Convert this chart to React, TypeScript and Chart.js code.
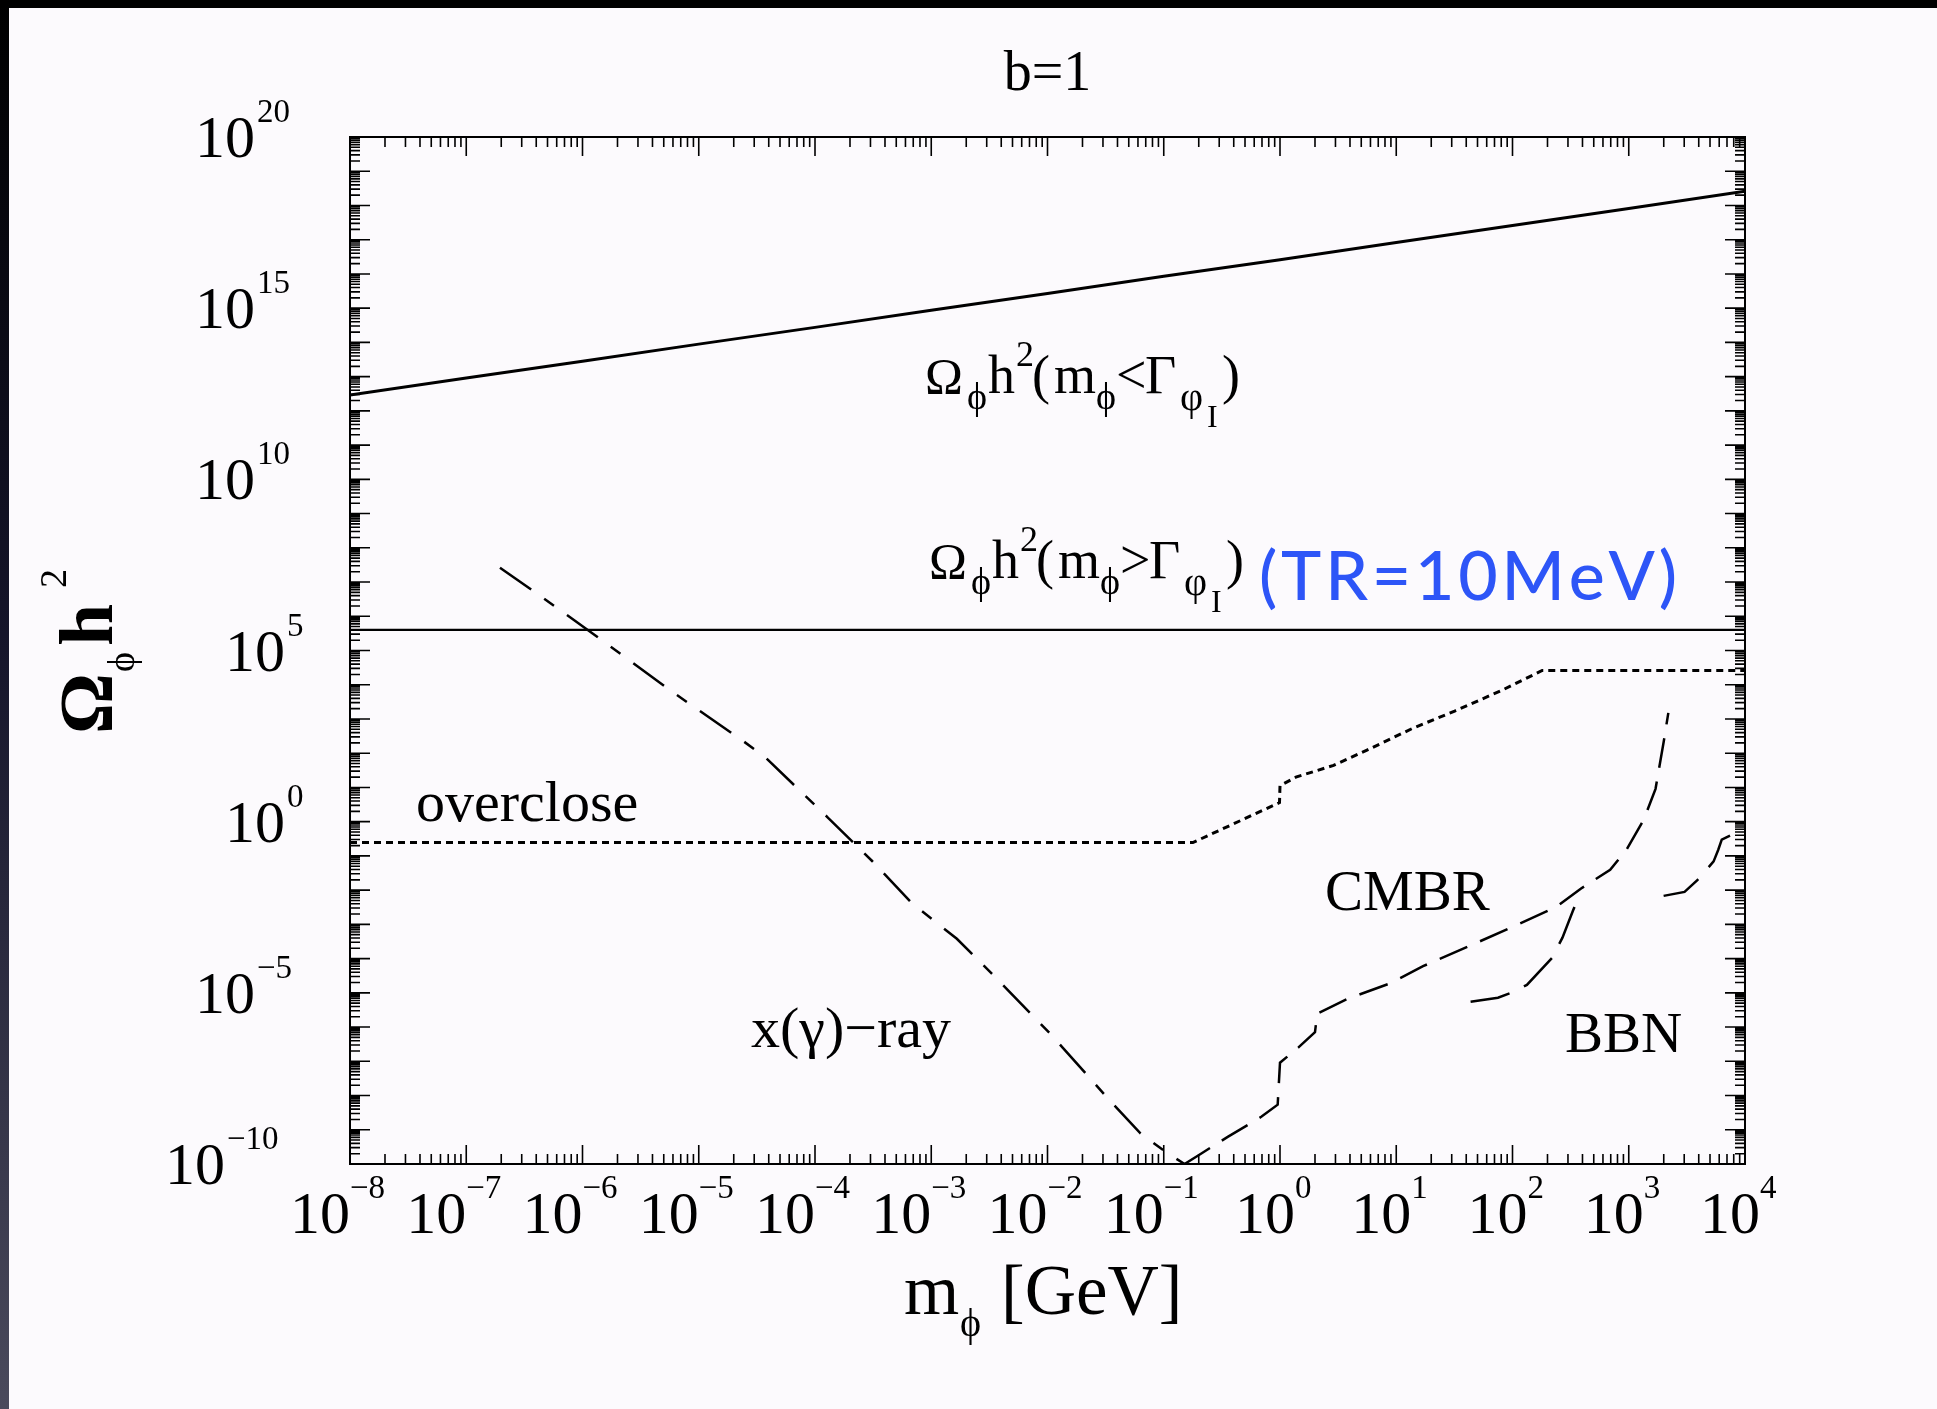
import React, { useEffect, useRef } from "react";
import { Chart, registerables } from "chart.js";

Chart.register(...registerables);

const CANVAS_W = 1937;
const CANVAS_H = 1409;
const BG = "#fcfafd";
const SERIF = '"Liberation Serif", "DejaVu Serif", serif';
const BLUE = "#2d55f7";

// Ω_φh²(m_φ < Γ_φI)
const upperMass = [1e-8, 1e-7, 1e-6, 1e-5, 1e-4, 1e-3, 1e-2, 1e-1, 1, 10, 100, 1e3, 1e4];
const upperOmega = [2.9e12, 9.1e12, 2.8e13, 8.9e13, 2.75e14, 8.7e14, 2.7e15, 8.5e15, 2.6e16, 8.3e16, 2.6e17, 8.1e17, 2.6e18];

// Ω_φh²(m_φ > Γ_φI), TR = 10 MeV
const flatMass = [1e-8, 1e4];
const flatOmega = [4.0e5, 4.0e5];

// overclose bound
const overcloseMass = [1e-8, 0.178, 0.99, 1.0, 1.37, 2.89, 5.6, 13.9, 31.8, 79, 180, 1e4];
const overcloseOmega = [0.245, 0.245, 3.6, 11.2, 20, 44, 123, 537, 1700, 6600, 2.6e4, 2.6e4];

// x(γ)-ray bound
const xrayMass = [1.95e-7, 3.63e-7, 1.23e-6, 6.0e-6, 2.4e-5, 3.7e-5, 1.29e-4, 3.1e-4, 6.9e-4, 1.66e-3, 3.6e-3, 0.011, 0.0355, 0.063, 0.105, 0.151];
const xrayOmega = [2.6e7, 6.0e6, 3.1e5, 6000, 229, 78, 1.32, 0.071, 4.0e-3, 3.8e-4, 2.75e-5, 5.5e-7, 6.3e-9, 7.9e-10, 2.2e-10, 1.0e-10];

// CMBR bound
const cmbrMass = [0.151, 0.209, 0.355, 0.5, 0.69, 0.955, 1.0, 1.45, 2.0, 2.09, 3.9, 8.9, 17, 45.7, 105, 237, 389, 692, 955, 1350, 1700, 2000, 2190];
const cmbrOmega = [1.0e-10, 2.0e-10, 6.2e-10, 1.23e-9, 2.4e-9, 5.4e-9, 9.1e-8, 2.6e-7, 7.1e-7, 2.45e-6, 6.9e-6, 1.9e-5, 6.0e-5, 2.6e-4, 9.1e-4, 3.2e-3, 0.0112, 0.039, 0.151, 1.17, 9.1, 219, 1510];

// BBN bound (two pieces)
const bbnLowMass = [43.6, 75, 95.5, 133, 219, 269, 331, 355];
const bbnLowOmega = [5.5e-6, 7.2e-6, 9.8e-6, 1.7e-5, 1.05e-4, 4.1e-4, 2.5e-3, 4.5e-3];
const bbnHighMass = [1995, 3020, 3890, 5370, 5890, 6310, 7500];
const bbnHighOmega = [6.8e-3, 8.9e-3, 0.0195, 0.069, 0.151, 0.3, 0.4];

// axes
const xMin = 1e-8;
const xMax = 1e4;
const yMin = 1e-10;
const yMax = 1e20;
const xTickExponents = [-8, -7, -6, -5, -4, -3, -2, -1, 0, 1, 2, 3, 4];
const yTickExponents = [-10, -9, -8, -7, -6, -5, -4, -3, -2, -1, 0, 1, 2, 3, 4, 5, 6, 7, 8, 9, 10, 11, 12, 13, 14, 15, 16, 17, 18, 19, 20];
const yLabelExponents = [-10, -5, 0, 5, 10, 15, 20];

const titleText = "b=1";
const overcloseText = "overclose";
const cmbrText = "CMBR";
const bbnText = "BBN";
const xrayText = "x(γ)−ray";
const trText = "(TR=10MeV)";

const pts = (xs: number[], ys: number[]) => xs.map((x, i) => ({ x, y: ys[i] }));

const makeSet = (label: string, xs: number[], ys: number[], width: number, dash: number[]) => ({
  label,
  data: pts(xs, ys),
  borderColor: "#000",
  backgroundColor: "#000",
  borderWidth: width,
  borderDash: dash,
  borderCapStyle: "butt",
  pointRadius: 0,
  pointHoverRadius: 0,
  showLine: true,
  fill: false,
  tension: 0,
});

function supText(e: number) {
  return e < 0 ? "−" + Math.abs(e) : String(e);
}

function put(ctx: CanvasRenderingContext2D, s: string, x: number, y: number, size: number, bold = false, align: CanvasTextAlign = "left") {
  ctx.font = `${bold ? "bold " : ""}${size}px ${SERIF}`;
  ctx.textAlign = align;
  ctx.textBaseline = "alphabetic";
  ctx.fillText(s, x, y);
}

// rich label pieces: [text, dx, dy, size]
function omegaLine(rel: string): [string, number, number, number][] {
  return [
    ["Ω", -1, 0, 51],
    ["ϕ", 41, 16, 38],
    ["h", 62, 0, 54],
    ["2", 90, -27, 36],
    ["(", 106, 0, 54],
    ["m", 128, 0, 54],
    ["ϕ", 170, 16, 38],
    [rel, 190, 0, 54],
    ["Γ", 219, 0, 54],
    ["φ", 254, 17, 40],
    ["I", 281, 34, 32],
    [")", 296, 0, 54],
  ];
}

const decorPlugin = {
  id: "decor",
  beforeDraw(chart: any) {
    const ctx: CanvasRenderingContext2D = chart.ctx;
    ctx.save();
    ctx.fillStyle = BG;
    ctx.fillRect(0, 0, CANVAS_W, CANVAS_H);
    const g = ctx.createLinearGradient(0, 0, 0, CANVAS_H);
    g.addColorStop(0, "#000000");
    g.addColorStop(0.45, "#15152a");
    g.addColorStop(1, "#4a4a5c");
    ctx.fillStyle = g;
    ctx.fillRect(0, 0, 9, CANVAS_H);
    ctx.fillStyle = "#000";
    ctx.fillRect(0, 0, CANVAS_W, 8);
    ctx.restore();
  },
  afterDraw(chart: any) {
    const ctx: CanvasRenderingContext2D = chart.ctx;
    const xs = chart.scales.x;
    const ys = chart.scales.y;
    const { left, right, top, bottom } = chart.chartArea;
    ctx.save();
    ctx.strokeStyle = "#000";
    ctx.fillStyle = "#000";

    // ticks
    ctx.lineWidth = 1.6;
    ctx.beginPath();
    for (const e of xTickExponents) {
      for (let k = 1; k <= 9; k++) {
        const v = k * Math.pow(10, e);
        if (v > xMax * 1.0001) break;
        const px = xs.getPixelForValue(v);
        const len = k === 1 ? 19 : 10;
        ctx.moveTo(px, bottom);
        ctx.lineTo(px, bottom - len);
        ctx.moveTo(px, top);
        ctx.lineTo(px, top + len);
      }
    }
    for (const e of yTickExponents) {
      for (let k = 1; k <= 9; k++) {
        const v = k * Math.pow(10, e);
        if (v > yMax * 1.0001) break;
        const py = ys.getPixelForValue(v);
        const len = k === 1 ? 20 : 10;
        ctx.moveTo(left, py);
        ctx.lineTo(left + len, py);
        ctx.moveTo(right, py);
        ctx.lineTo(right - len, py);
      }
    }
    ctx.stroke();

    // frame
    ctx.lineWidth = 2;
    ctx.strokeRect(left, top, right - left, bottom - top);

    // x tick labels
    for (const e of xTickExponents) {
      const px = xs.getPixelForValue(Math.pow(10, e));
      const s = supText(e);
      const start = px - (60 + 30 * s.length) / 2;
      put(ctx, "10", start, bottom + 69, 60);
      ctx.font = `60px ${SERIF}`;
      const w = ctx.measureText("10").width;
      put(ctx, s, start + w, bottom + 34, 33);
    }
    // y tick labels
    for (const e of yLabelExponents) {
      const py = ys.getPixelForValue(Math.pow(10, e));
      const s = supText(e);
      const xr = left - 35 - 30 * s.length;
      put(ctx, "10", xr, py + 20, 60, false, "right");
      put(ctx, s, xr + 2, py - 15, 33);
    }

    // title
    put(ctx, titleText, (left + right) / 2, 90, 56, false, "center");

    // x title: m_ϕ [GeV]
    put(ctx, "m", 904, bottom + 150, 71);
    put(ctx, "ϕ", 960, bottom + 172, 40);
    put(ctx, "[GeV]", 1001, bottom + 150, 71);

    // y title: Ω_ϕ h^2 (rotated)
    ctx.save();
    ctx.translate(112, 734);
    ctx.rotate(-Math.PI / 2);
    put(ctx, "Ω", 0, 0, 76, true);
    put(ctx, "ϕ", 62, 22, 38);
    put(ctx, "h", 88, 0, 76, true);
    put(ctx, "2", 146, -46, 38);
    ctx.restore();

    // annotations
    for (const [t, dx, dy, sz] of omegaLine("<")) put(ctx, t, 926 + dx, 393 + dy, sz);
    for (const [t, dx, dy, sz] of omegaLine(">")) put(ctx, t, 930 + dx, 578 + dy, sz);

    // blue (TR=10MeV)
    ctx.fillStyle = BLUE;
    ctx.font = `500 68px Lato, "Open Sans", sans-serif`;
    ctx.textAlign = "left";
    const chars = Array.from(trText);
    const natural = chars.reduce((a, c) => a + ctx.measureText(c).width, 0);
    const extra = (418 - natural) / (chars.length - 1);
    let bx = 1259;
    for (const c of chars) {
      ctx.fillText(c, bx, 600);
      bx += ctx.measureText(c).width + extra;
    }
    ctx.fillStyle = "#000";

    put(ctx, overcloseText, 416, 821, 58);
    put(ctx, cmbrText, 1325, 910, 57);
    put(ctx, bbnText, 1565, 1052, 57);
    put(ctx, xrayText, 751, 1047, 58);

    ctx.restore();
  },
};

export default function App() {
  const ref = useRef<HTMLCanvasElement | null>(null);
  useEffect(() => {
    document.body.style.margin = "0";
    document.body.style.overflow = "hidden";
    document.body.style.background = BG;
    const canvas = ref.current!;
    const chart = new Chart(canvas, {
      type: "scatter",
      data: {
        datasets: [
          makeSet("upper", upperMass, upperOmega, 3, []),
          makeSet("flat", flatMass, flatOmega, 2.2, []),
          makeSet("overclose", overcloseMass, overcloseOmega, 3, [7, 5]),
          makeSet("xray", xrayMass, xrayOmega, 2.5, [38, 16, 12, 16]),
          makeSet("cmbr", cmbrMass, cmbrOmega, 2.5, [30, 14]),
          makeSet("bbnLow", bbnLowMass, bbnLowOmega, 2.5, [40, 16]),
          makeSet("bbnHigh", bbnHighMass, bbnHighOmega, 2.5, [40, 16]),
        ] as any,
      },
      options: {
        animation: false,
        responsive: false,
        maintainAspectRatio: false,
        devicePixelRatio: 1,
        events: [],
        layout: { padding: { left: 350, right: CANVAS_W - 1745, top: 137, bottom: CANVAS_H - 1164 } },
        plugins: { legend: { display: false }, tooltip: { enabled: false }, title: { display: false } },
        scales: {
          x: { type: "logarithmic", min: xMin, max: xMax, display: false },
          y: { type: "logarithmic", min: yMin, max: yMax, display: false },
        },
      } as any,
      plugins: [decorPlugin as any],
    });
    return () => chart.destroy();
  }, []);
  return <canvas ref={ref} width={CANVAS_W} height={CANVAS_H} style={{ display: "block", width: CANVAS_W, height: CANVAS_H }} />;
}
